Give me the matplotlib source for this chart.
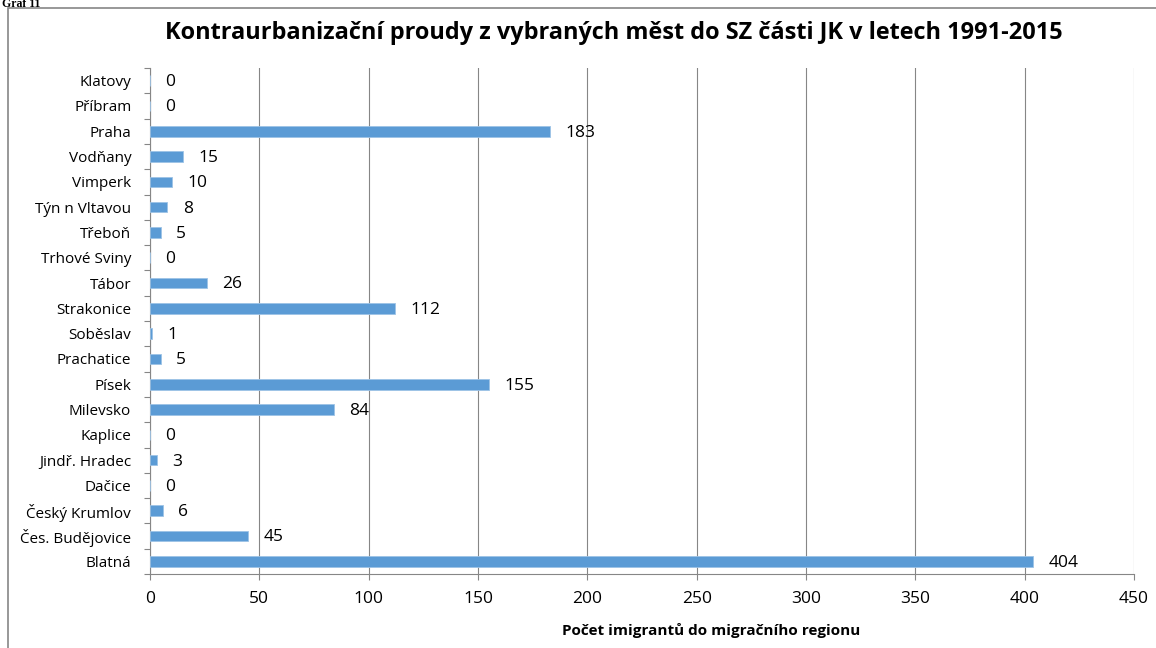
import matplotlib
matplotlib.use("Agg")
import matplotlib.pyplot as plt
import numpy as np
from matplotlib.patches import Rectangle

# Données (de haut en bas dans le graphique)
mesta = ["Klatovy", "Příbram", "Praha", "Vodňany", "Vimperk", "Týn n Vltavou",
         "Třeboň", "Trhové Sviny", "Tábor", "Strakonice", "Soběslav", "Prachatice",
         "Písek", "Milevsko", "Kaplice", "Jindř. Hradec", "Dačice", "Český Krumlov",
         "Čes. Budějovice", "Blatná"]
imigranti = [0, 0, 183, 15, 10, 8, 5, 0, 26, 112, 1, 5, 155, 84, 0, 3, 0, 6, 45, 404]
x_ticks = [0, 50, 100, 150, 200, 250, 300, 350, 400, 450]

titulek = "Kontraurbanizační proudy z vybraných měst do SZ části JK v letech 1991-2015"
osa_x = "Počet imigrantů do migračního regionu"

plt.rcParams['font.family'] = ['Open Sans', 'DejaVu Sans']

W, H = 1156, 648
fig = plt.figure(figsize=(W / 100, H / 100), dpi=100)
ax = fig.add_axes([150 / W, 1 - 574 / H, (1134 - 150) / W, (574 - 68) / H])

sivá = "#868686"
pozice = np.arange(len(mesta))[::-1]
ax.barh(pozice, imigranti, height=0.42, color="#5B9BD5", edgecolor="#9DC3E6",
        linewidth=0.6, zorder=3)

for y, v in zip(pozice, imigranti):
    ax.annotate(str(v), (v, y), xytext=(11, -1), textcoords="offset points",
                ha="left", va="center", fontsize=12.5, color="black", zorder=4)

ax.set_xlim(0, 450)
ax.set_ylim(-0.5, len(mesta) - 0.5)
ax.set_xticks(x_ticks)
ax.set_xticklabels([str(t) for t in x_ticks], fontsize=12.5)
ax.set_yticks(pozice)
ax.set_yticklabels(mesta, fontsize=11)
ax.set_yticks(np.arange(-0.5, len(mesta), 1), minor=True)

ax.tick_params(axis="y", which="major", length=0, pad=13.5)
ax.tick_params(axis="y", which="minor", length=4.5, color=sivá, width=0.8, direction="out")
ax.tick_params(axis="x", length=4.5, color=sivá, width=0.8, pad=8)

ax.grid(axis="x", color=sivá, linewidth=0.8, zorder=0)
for s in ["top", "right"]:
    ax.spines[s].set_visible(False)
for s in ["left", "bottom"]:
    ax.spines[s].set_color(sivá)
    ax.spines[s].set_linewidth(0.8)

fig.text(614 / W, 1 - 33 / H, titulek, ha="center", va="center",
         fontsize=16.9, fontweight="bold")
fig.text(711 / W, 1 - 631 / H, osa_x, ha="center", va="center",
         fontsize=11, fontweight="bold")
fig.text(2 / W, 1 - 7 / H, "Graf 11", ha="left", va="baseline",
         fontsize=8.5, fontweight="bold", family="Liberation Serif")

# rámeček grafu (pravý a spodní okraj jsou mimo obrázek)
fig.patches.append(Rectangle((8 / W, -0.01), 1.1, 1 - 8 / H + 0.01,
                             transform=fig.transFigure, fill=False,
                             edgecolor=sivá, linewidth=1.2))

fig.savefig("out.png", dpi=100)
